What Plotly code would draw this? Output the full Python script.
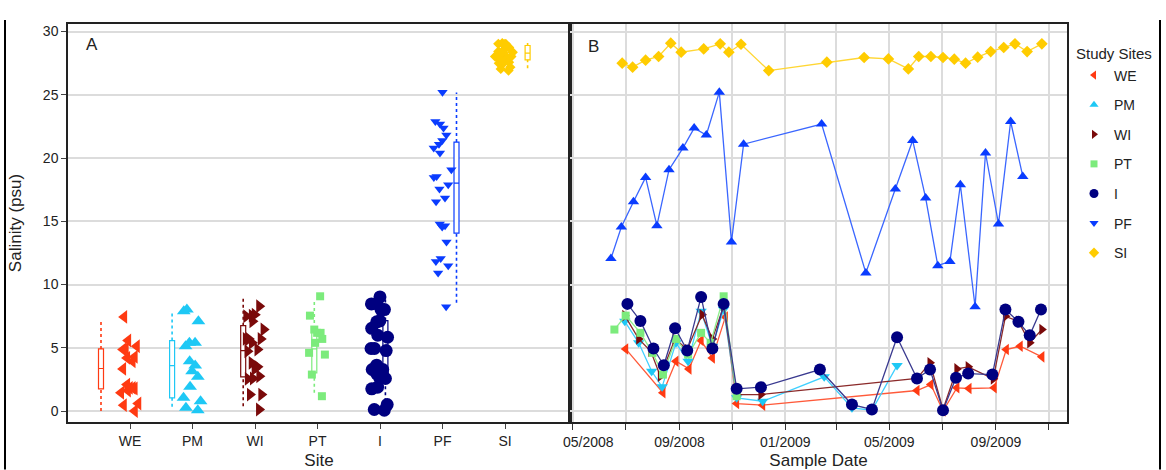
import plotly.graph_objects as go

# ---------------- data ----------------
sites = ["WE", "PM", "WI", "PT", "I", "PF", "SI"]

we_dates = ["2008-07-01", "2008-08-13", "2008-08-28", "2008-09-12", "2008-09-26", "2008-10-09",
            "2008-10-24", "2008-11-06", "2008-12-06", "2009-06-02", "2009-06-18", "2009-07-02",
            "2009-07-18", "2009-08-01", "2009-08-30", "2009-09-13", "2009-09-29", "2009-10-24"]
we_sal = [4.91, 1.44, 3.93, 3.33, 5.57, 4.2, 7.44, 0.59, 0.46, 1.62, 2.09, 0.0,
          1.83, 1.78, 1.83, 4.86, 5.12, 4.28]

pm_dates = ["2008-06-30", "2008-07-16", "2008-07-31", "2008-08-12", "2008-08-28", "2008-09-11",
            "2008-09-26", "2008-10-09", "2008-10-22", "2008-11-06", "2008-12-06", "2009-02-15",
            "2009-03-19", "2009-04-11", "2009-05-10"]
pm_sal = [7.09, 5.39, 3.14, 1.91, 5.39, 3.93, 7.88, 5.12, 8.02, 1.04, 0.77, 2.7, 0.25, 0.06, 3.59]

wi_dates = ["2008-06-30", "2008-07-16", "2008-07-30", "2008-08-10", "2008-08-27", "2008-09-10",
            "2008-09-27", "2008-10-09", "2008-10-22", "2008-11-06", "2008-12-04", "2009-06-02",
            "2009-06-17", "2009-07-02", "2009-07-18", "2009-07-31", "2009-08-29", "2009-09-12",
            "2009-09-27", "2009-10-10", "2009-10-24"]
wi_sal = [7.54, 5.7, 4.72, 2.75, 5.7, 4.86, 7.62, 5.7, 8.28, 1.3, 1.3, 2.57,
          3.81, 0.12, 3.33, 3.49, 2.54, 7.49, 7.09, 5.39, 6.44]

pt_dates = ["2008-06-18", "2008-07-01", "2008-07-18", "2008-08-01", "2008-08-13", "2008-08-28",
            "2008-09-11", "2008-09-26", "2008-10-07", "2008-10-22", "2008-11-06"]
pt_sal = [6.44, 7.54, 6.18, 4.6, 2.88, 5.7, 4.46, 6.18, 5.39, 9.07, 1.17]

i_dates = ["2008-07-03", "2008-07-18", "2008-08-02", "2008-08-14", "2008-08-27", "2008-09-10",
           "2008-09-26", "2008-10-09", "2008-10-22", "2008-11-06", "2008-12-04", "2009-02-10",
           "2009-03-19", "2009-04-11", "2009-05-10", "2009-06-02", "2009-06-17", "2009-07-02",
           "2009-07-17", "2009-07-31", "2009-08-28", "2009-09-12", "2009-09-27", "2009-10-10",
           "2009-10-23"]
i_sal = [8.47, 7.12, 4.94, 3.62, 6.54, 4.78, 9.02, 4.94, 8.47, 1.75, 1.88, 3.28,
         0.51, 0.12, 5.83, 2.57, 3.28, 0.06, 2.62, 2.96, 2.88, 8.02, 7.05, 5.99, 8.02]

pf_dates = ["2008-06-14", "2008-06-26", "2008-07-10", "2008-07-24", "2008-08-06", "2008-08-20",
            "2008-09-05", "2008-09-18", "2008-10-02", "2008-10-17", "2008-10-31", "2008-11-14",
            "2009-02-12", "2009-04-04", "2009-05-08", "2009-05-28", "2009-06-12", "2009-06-26",
            "2009-07-10", "2009-07-22", "2009-08-08", "2009-08-20", "2009-09-04", "2009-09-18",
            "2009-10-02"]
pf_sal = [12.05, 14.55, 16.55, 18.47, 14.65, 19.08, 20.79, 22.37, 21.82, 25.21, 13.36, 21.1,
          22.69, 10.92, 17.55, 21.39, 16.84, 11.49, 11.83, 17.89, 8.24, 20.4, 14.79, 22.89, 18.55]

si_dates = ["2008-06-27", "2008-07-09", "2008-07-24", "2008-08-08", "2008-08-22", "2008-09-03",
            "2008-09-29", "2008-10-18", "2008-10-28", "2008-11-11", "2008-12-13", "2009-02-18",
            "2009-04-02", "2009-04-30", "2009-05-23", "2009-06-04", "2009-06-18", "2009-07-02",
            "2009-07-15", "2009-07-28", "2009-08-11", "2009-08-26", "2009-09-10", "2009-09-23",
            "2009-10-07", "2009-10-24"]
si_sal = [27.5, 27.19, 27.74, 28.03, 29.08, 28.37, 28.63, 29.03, 28.37, 29.0, 26.92, 27.58,
          27.95, 27.84, 27.05, 28.03, 28.03, 27.95, 27.82, 27.5, 27.98, 28.42, 28.74, 29.03,
          28.42, 29.03]

# box-plot summaries
box_lo = [0.0, 0.33, 0.38, 1.44, 0.3, 8.55, 27.1]
box_q1 = [1.75, 1.04, 2.7, 3.01, 2.6, 14.07, 27.77]
box_med = [3.36, 3.59, 4.78, 4.91, 4.8, 18.02, 28.3]
box_q3 = [4.91, 5.57, 6.75, 6.49, 7.15, 21.26, 28.9]
box_hi = [7.17, 7.8, 8.94, 8.67, 9.0, 25.18, 29.1]

date_ticks = ["2008-05-01", "2008-07-01", "2008-09-01", "2008-11-01", "2009-01-01",
              "2009-03-01", "2009-05-01", "2009-07-01", "2009-09-01", "2009-11-01"]
date_ticktext = ["\u00a0" * 8 + "05/2008", "", "09/2008", "", "01/2009", "", "05/2009", "",
                 "09/2009", ""]

# ---------------- styles ----------------
dates = [we_dates, pm_dates, wi_dates, pt_dates, i_dates, pf_dates, si_dates]
sal = [we_sal, pm_sal, wi_sal, pt_sal, i_sal, pf_sal, si_sal]
colors = ["#FF3A12", "#1EC8F5", "#7A0A0A", "#7CEB7C", "#000080", "#0A3CFF", "#FFCC00"]
line_colors = ["#FF5A3A", "#40D0FF", "#8B2A2A", "#8CEF8C", "#3A3A90", "#3A66FF", "#FFD633"]
sym_a = ["triangle-left", "triangle-up", "triangle-right", "square", "circle", "triangle-down", "diamond"]
sym_b = ["triangle-left", "triangle-down", "triangle-right", "square", "circle", "triangle-up", "diamond"]
size_a = [12, 12, 12, 8, 13, 9, 8]
size_b = [10, 10, 10, 8, 12, 10, 9]
size_leg = [8, 8, 8, 7, 9, 8, 8]

W, H = 1166, 470
px_l, px_m, px_r = 68, 570, 1067
py_t, py_b = 24, 422.5
PW, PH = px_r - px_l, py_b - py_t
cat_pos = list(range(7))
box_pos = [-0.464 + 1.1376 * i for i in range(7)]


def fx(px):  # pixel -> plot-area fraction (horizontal)
    return (px - px_l) / PW


def fy(py):  # pixel -> plot-area fraction (vertical)
    return (py_b - py) / PH


FONT = "Liberation Sans, Arial, sans-serif"
fig = go.Figure()

# Panel A: dotted whiskers, boxes, jittered points
for k in range(7):
    fig.add_trace(go.Scatter(
        x=[box_pos[k], box_pos[k], None, box_pos[k], box_pos[k]],
        y=[box_lo[k], box_q1[k], None, box_q3[k], box_hi[k]],
        mode="lines", line=dict(color=colors[k], width=1.6, dash="dot"),
        showlegend=False, hoverinfo="skip", xaxis="x", yaxis="y"))
for k in range(7):
    fig.add_trace(go.Box(
        x=[box_pos[k]], q1=[box_q1[k]], median=[box_med[k]], q3=[box_q3[k]],
        lowerfence=[box_q1[k]], upperfence=[box_q3[k]],
        width=0.08, whiskerwidth=0, fillcolor="white",
        line=dict(color=colors[k], width=1.2), boxpoints=False,
        showlegend=False, xaxis="x", yaxis="y"))
for k in range(7):
    fig.add_trace(go.Box(
        y=sal[k], x0=cat_pos[k], name=sites[k], boxpoints="all", jitter=1, pointpos=0,
        width=0.34, line=dict(width=0, color="rgba(0,0,0,0)"), fillcolor="rgba(0,0,0,0)",
        marker=dict(symbol=sym_a[k], size=size_a[k], color=colors[k]),
        showlegend=False, xaxis="x", yaxis="y"))

# Panel B: time series
for k in range(7):
    fig.add_trace(go.Scatter(
        x=dates[k], y=sal[k], mode="lines+markers", name=sites[k],
        line=dict(color=line_colors[k], width=1.3),
        marker=dict(symbol=sym_b[k], size=size_b[k], color=colors[k]),
        showlegend=False, xaxis="x2", yaxis="y2"))

# legend entries
for k in range(7):
    fig.add_trace(go.Scatter(
        x=[None], y=[None], mode="markers", name=sites[k], legendgroup=sites[k],
        marker=dict(symbol=sym_a[k], size=size_leg[k], color=colors[k]),
        showlegend=True, xaxis="x2", yaxis="y2"))

yrange = [-0.87, 30.6]
axis_line = dict(showline=True, mirror=True, linecolor="#222222", linewidth=1.5)
grid = dict(showgrid=True, gridcolor="#DCDCDC", gridwidth=1.5)

fig.update_layout(
    width=W, height=H,
    margin=dict(l=px_l, r=W - px_r, t=py_t, b=H - py_b, autoexpand=False),
    paper_bgcolor="white", plot_bgcolor="white",
    font=dict(family=FONT, size=14, color="#222222"),
    boxmode="overlay",
    xaxis=dict(domain=[0, fx(px_m)], range=[-0.992, 7.04], type="linear",
               tickvals=cat_pos, ticktext=sites, ticks="outside", ticklen=5,
               tickcolor="#444", showgrid=False, zeroline=False, anchor="y",
               automargin=False, title=dict(text="Site", standoff=9), **axis_line),
    yaxis=dict(domain=[0, 1], range=yrange,
               tickvals=[0, 5, 10, 15, 20, 25, 30], ticks="outside", ticklen=5,
               tickcolor="#444", zeroline=False, anchor="x", automargin=False,
               title=dict(text="Salinity (psu)", standoff=17), **axis_line, **grid),
    xaxis2=dict(domain=[fx(px_m), 1], type="date",
                range=["2008-04-27 19:00", "2009-11-22"],
                tickvals=date_ticks, ticktext=date_ticktext, ticks="outside", ticklen=6,
                tickcolor="#333", zeroline=False, anchor="y2", automargin=False,
                title=dict(text="Sample Date", standoff=9), **axis_line, **grid),
    yaxis2=dict(domain=[0, 1], range=yrange,
                tickvals=[0, 5, 10, 15, 20, 25, 30], showticklabels=False, ticks="",
                zeroline=False, anchor="x2", automargin=False, **axis_line, **grid),
    legend=dict(title=dict(text="Study Sites", font=dict(size=15)),
                x=fx(1074), y=fy(40), xanchor="left", yanchor="top",
                font=dict(size=14), tracegroupgap=8.4, bgcolor="rgba(0,0,0,0)"),
    annotations=[
        dict(text="A", x=fx(92), y=fy(45), xref="paper", yref="paper",
             xanchor="center", yanchor="middle",
             showarrow=False, font=dict(size=17, color="#222")),
        dict(text="B", x=fx(593), y=fy(47), xref="paper", yref="paper",
             xanchor="center", yanchor="middle",
             showarrow=False, font=dict(size=17, color="#222")),
    ],
    shapes=[
        dict(type="line", xref="paper", yref="paper", x0=fx(5), x1=fx(5), y0=fy(470), y1=fy(20),
             line=dict(color="black", width=2)),
        dict(type="line", xref="paper", yref="paper", x0=fx(1160), x1=fx(1160), y0=fy(470), y1=fy(20),
             line=dict(color="black", width=2)),
    ],
)

fig.write_html("out.html")
